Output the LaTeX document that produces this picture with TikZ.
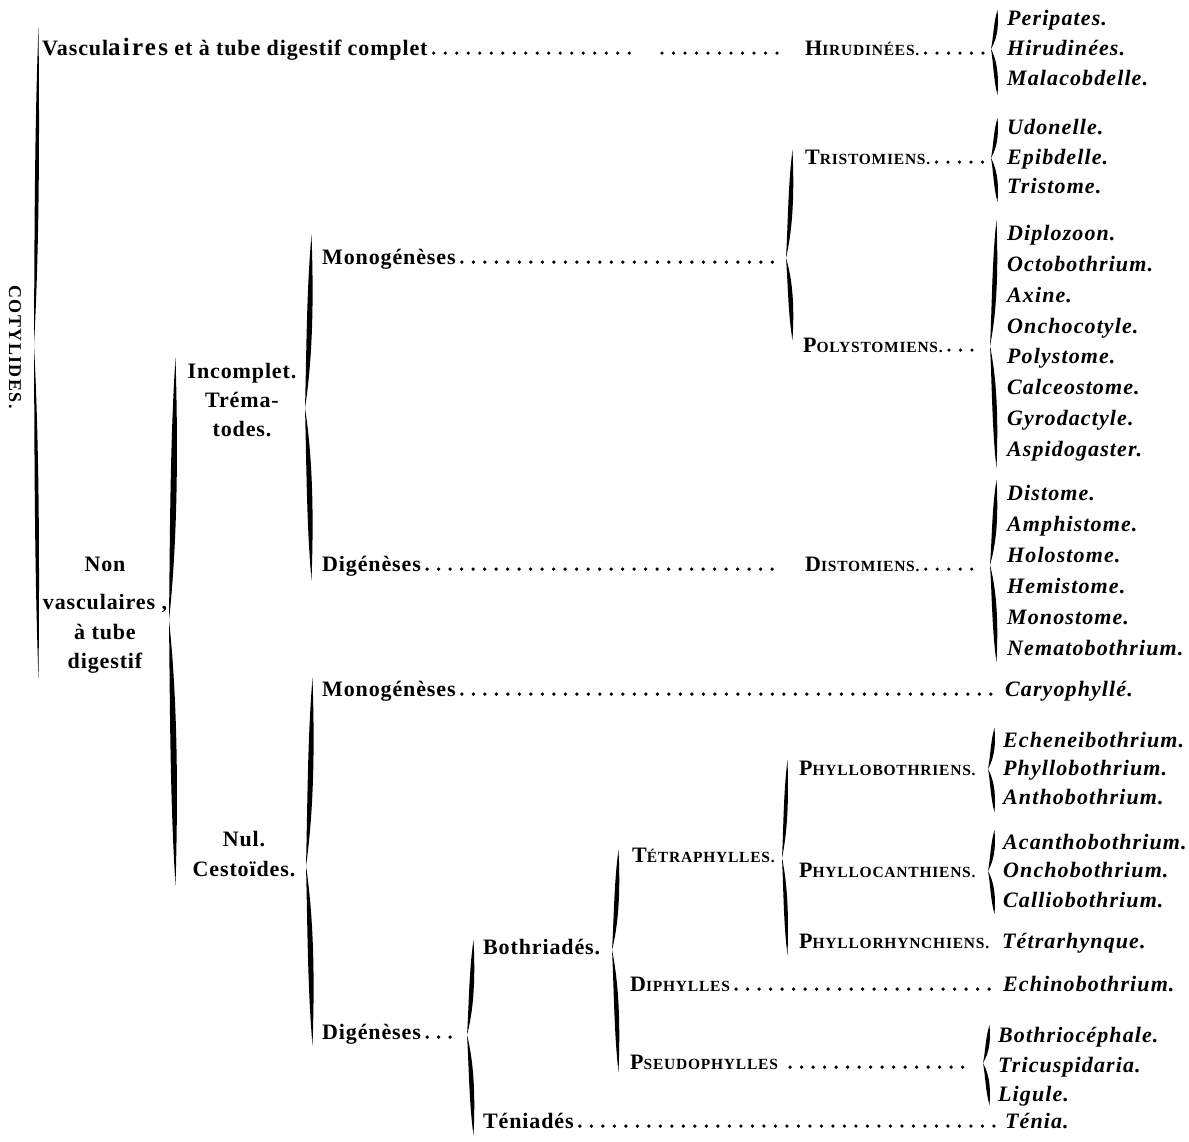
\documentclass[tikz,border=0pt]{standalone}
\usepackage{fontspec}
\setmainfont{Liberation Serif}
\usetikzlibrary{calc}
% curly brace with tip to the left: x, top, cusp, bottom, half-thickness, tip depth, name of tip
\newcommand\cbr[7]{%
  \pgfmathsetmacro\cbA{0.32*(#3-#2)}%
  \pgfmathsetmacro\cbB{0.32*(#4-#3)}%
  \fill ({#1+1.5},{#2}) .. controls ({#1-#5},{#2+\cbA}) and ({#1-#5},{#3-\cbA}) .. ({#1-#6},{#3})
    .. controls ({#1-#5},{#3+\cbB}) and ({#1-#5},{#4-\cbB}) .. ({#1+1.5},{#4})
    .. controls ({#1+#5},{#4-\cbB}) and ({#1+#5},{#3+\cbB}) .. ({#1-#6},{#3})
    .. controls ({#1+#5},{#3-\cbA}) and ({#1+#5},{#2+\cbA}) .. cycle;
  \coordinate (#7) at ({#1-#6},{#3});}
\newcommand\SCa[2]{{\fontsize{22}{29}\selectfont #1}{\fontsize{15.5}{29}\selectfont #2}}
\tikzset{
  lab/.style={anchor=base west, inner sep=0pt, font=\bfseries\fontsize{22}{29}\selectfont\addfontfeatures{LetterSpace=4}},
  labc/.style={lab, anchor=base},
  sc/.style={anchor=base west, inner sep=0pt, font=\bfseries\addfontfeatures{LetterSpace=5}},
  nm/.style={anchor=base west, inner sep=0pt, font=\bfseries\itshape\fontsize{22}{29}\selectfont\addfontfeatures{LetterSpace=5}},
  leader/.style={line width=3.6pt, line cap=round, dash pattern=on 0pt off 11.5pt, transform canvas={yshift=1.9pt}},
  ldr/.style={leader, shorten <=6pt, shorten >=7pt}
}
\begin{document}
\begin{tikzpicture}[x=1pt,y=-1pt]
\useasboundingbox (0,0) rectangle (1189,1141);

% ---------- braces ----------
\cbr{37}{28}{345}{678}{2.5}{3}{b0}
\cbr{174}{358}{620}{885}{4}{5}{b1}
\cbr{310}{235}{408}{580}{3.5}{5}{b2}
\cbr{791}{150}{258}{340}{3}{5}{b3}
\cbr{311}{678}{866}{1045}{3.5}{5}{b4}
\cbr{472}{940}{1035}{1135}{3}{5}{b5}
\cbr{617}{850}{950}{1072}{3}{5}{b6}
\cbr{786}{760}{858}{955}{2.5}{4}{b7}
\cbr{996}{10}{49}{95}{2.5}{5}{t1}
\cbr{996}{118}{158}{202}{2.5}{5}{t2}
\cbr{995}{220}{346}{468}{3}{5}{t3}
\cbr{995}{480}{565}{662}{3}{5}{t4}
\cbr{993}{728}{769}{812}{2.5}{5}{t5}
\cbr{993}{830}{871}{914}{2.5}{5}{t6}
\cbr{988}{1025}{1063}{1105}{2.5}{5}{t7}

% ---------- rotated title ----------
\node[inner sep=0pt, rotate=-90, font=\bfseries\fontsize{18}{20}\selectfont\addfontfeatures{LetterSpace=8}] (coty) at (15,347) {COTYLIDES.};

% ---------- first level ----------
\node[lab] (vasc) at (42,55) {Vascul{\fontsize{25}{29}\selectfont\addfontfeatures{LetterSpace=9}aires} et à tube digestif complet};
\node[labc] (nv1) at (105,571) {Non};
\node[labc] (nv2) at (105,609) {vasculaires ,};
\node[labc] (nv3) at (105,639) {à tube};
\node[labc] (nv4) at (105,668) {digestif};

% ---------- second level ----------
\node[labc] (inc1) at (242,378) {Incomplet.};
\node[labc] (inc2) at (242,407) {Tréma-};
\node[labc] (inc3) at (242,436) {todes.};
\node[labc] (nul1) at (244,846) {Nul.};
\node[labc] (nul2) at (244,876) {Cestoïdes.};

% ---------- third level ----------
\node[lab] (mono1) at (322,264) {Monogénèses};
\node[lab] (dig1) at (322,571) {Digénèses};
\node[lab] (mono2) at (322,696) {Monogénèses};
\node[lab] (dig2) at (322,1039) {Digénèses};

\node[lab] (bothr) at (483,954) {Bothriadés.};
\node[lab] (teniad) at (483,1128) {Téniadés};

\node[sc] (tetra) at (632,862) {\SCa{T}{ÉTRAPHYLLES.}};
\node[sc] (diph) at (630,991) {\SCa{D}{IPHYLLES}};
\node[sc] (pseudo) at (630,1069) {\SCa{P}{SEUDOPHYLLES}};

% ---------- family level ----------
\node[sc] (hirud) at (805,55) {\SCa{H}{IRUDINÉES.}};
\node[sc] (tristo) at (805,164) {\SCa{T}{RISTOMIENS.}};
\node[sc] (poly) at (803,352) {\SCa{P}{OLYSTOMIENS.}};
\node[sc] (disto) at (805,571) {\SCa{D}{ISTOMIENS.}};
\node[sc] (phyllob) at (799,775) {\SCa{P}{HYLLOBOTHRIENS.}};
\node[sc] (phylloc) at (799,877) {\SCa{P}{HYLLOCANTHIENS.}};
\node[sc] (phyllor) at (799,948) {\SCa{P}{HYLLORHYNCHIENS.}};

% ---------- genera ----------
\node[nm] (g01) at (1007,25) {Peripates.};
\node[nm] (g02) at (1007,55) {Hirudinées.};
\node[nm] (g03) at (1007,85) {Malacobdelle.};
\node[nm] (g04) at (1007,134) {Udonelle.};
\node[nm] (g05) at (1007,164) {Epibdelle.};
\node[nm] (g06) at (1007,193) {Tristome.};
\node[nm] (g07) at (1007,240) {Diplozoon.};
\node[nm] (g08) at (1007,271) {Octobothrium.};
\node[nm] (g09) at (1007,302) {Axine.};
\node[nm] (g10) at (1007,333) {Onchocotyle.};
\node[nm] (g11) at (1007,363) {Polystome.};
\node[nm] (g12) at (1007,394) {Calceostome.};
\node[nm] (g13) at (1007,425) {Gyrodactyle.};
\node[nm] (g14) at (1007,456) {Aspidogaster.};
\node[nm] (g15) at (1007,500) {Distome.};
\node[nm] (g16) at (1007,531) {Amphistome.};
\node[nm] (g17) at (1007,562) {Holostome.};
\node[nm] (g18) at (1007,593) {Hemistome.};
\node[nm] (g19) at (1007,624) {Monostome.};
\node[nm] (g20) at (1007,655) {Nematobothrium.};
\node[nm] (cary) at (1005,696) {Caryophyllé.};
\node[nm] (g22) at (1003,747) {Echeneibothrium.};
\node[nm] (g23) at (1003,775) {Phyllobothrium.};
\node[nm] (g24) at (1003,804) {Anthobothrium.};
\node[nm] (g25) at (1003,849) {Acanthobothrium.};
\node[nm] (g26) at (1003,877) {Onchobothrium.};
\node[nm] (g27) at (1003,907) {Calliobothrium.};
\node[nm] (tetrar) at (1002,948) {Tétrarhynque.};
\node[nm] (echino) at (1003,991) {Echinobothrium.};
\node[nm] (g30) at (998,1042) {Bothriocéphale.};
\node[nm] (g31) at (998,1072) {Tricuspidaria.};
\node[nm] (g32) at (998,1101) {Ligule.};
\node[nm] (tenia) at (1005,1128) {Ténia.};

% ---------- leaders ----------
\coordinate (c1) at (630,55);
\coordinate (c2) at (662,55);
\coordinate (c3) at (782,55);
\coordinate (c4) at (782,571);
\draw[ldr, shorten >=0pt] (vasc.base east) -- (c1);
\draw[leader] (c2) -- (c3);
\draw[ldr] (hirud.base east) -- (hirud.base east -| t1);
\draw[ldr] (tristo.base east) -- (tristo.base east -| t2);
\draw[ldr] (mono1.base east) -- (mono1.base east -| b3);
\draw[ldr] (poly.base east) -- (poly.base east -| t3);
\draw[ldr, shorten >=0pt] (dig1.base east) -- (c4);
\draw[ldr] (disto.base east) -- (disto.base east -| t4);
\draw[ldr] (mono2.base east) -- (cary.base west);
\draw[ldr] (diph.base east) -- (echino.base west);
\draw[ldr, shorten <=12pt, shorten >=14pt] (pseudo.base east) -- (pseudo.base east -| t7);
\draw[ldr] (dig2.base east) -- (dig2.base east -| b5);
\draw[ldr] (teniad.base east) -- (tenia.base west);
\end{tikzpicture}
\end{document}
